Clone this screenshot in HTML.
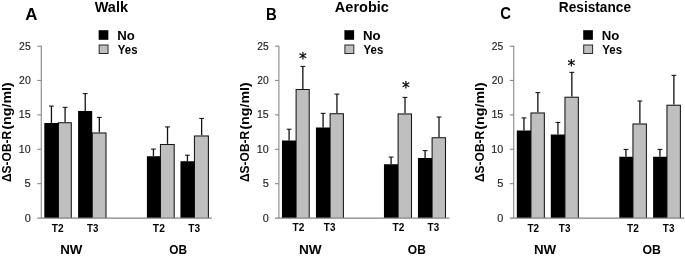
<!DOCTYPE html>
<html><head><meta charset="utf-8"><title>Figure</title>
<style>
html,body{margin:0;padding:0;background:#fff;}
svg{display:block;}
text{font-family:"Liberation Sans",sans-serif;fill:#000;}
.b{font-weight:bold;}
.n{fill:#1e1e1e;stroke:#1e1e1e;stroke-width:0.15;}
.s{font-family:"DejaVu Sans",sans-serif;stroke:#000;stroke-width:0.25;}
</style></head><body>
<svg width="685" height="256" viewBox="0 0 685 256">
<rect width="685" height="256" fill="#fff"/>
<g>
<path d="M51.44 123V106" stroke="#111" stroke-width="1.3" fill="none"/><path d="M49.04 106.1h4.8" stroke="#111" stroke-width="1.05" fill="none"/>
<path d="M65.08 122.25V107.25" stroke="#111" stroke-width="1.3" fill="none"/><path d="M62.68 107.35h4.8" stroke="#111" stroke-width="1.05" fill="none"/>
<rect x="58.45" y="122.25" width="12.85" height="95.85" fill="#bfbfbf"/>
<path d="M58.45 218.1V122.75H71.3V218.1" stroke="#161616" stroke-width="1.05" fill="none"/>
<rect x="44.3" y="123" width="14.1" height="95.1" fill="#000"/>
<path d="M85.24 111V93.5" stroke="#111" stroke-width="1.3" fill="none"/><path d="M82.84 93.6h4.8" stroke="#111" stroke-width="1.05" fill="none"/>
<path d="M99.33 132.5V117.25" stroke="#111" stroke-width="1.3" fill="none"/><path d="M96.92 117.35h4.8" stroke="#111" stroke-width="1.05" fill="none"/>
<rect x="92.25" y="132.5" width="13.75" height="85.6" fill="#bfbfbf"/>
<path d="M92.25 218.1V133H106V218.1" stroke="#161616" stroke-width="1.05" fill="none"/>
<rect x="78.1" y="111" width="14.1" height="107.1" fill="#000"/>
<path d="M153.44 156.25V149" stroke="#111" stroke-width="1.3" fill="none"/><path d="M151.04 149.1h4.8" stroke="#111" stroke-width="1.05" fill="none"/>
<path d="M167.52 143.9V126.8" stroke="#111" stroke-width="1.3" fill="none"/><path d="M165.12 126.9h4.8" stroke="#111" stroke-width="1.05" fill="none"/>
<rect x="160.45" y="143.9" width="13.75" height="74.2" fill="#bfbfbf"/>
<path d="M160.45 218.1V144.4H174.2V218.1" stroke="#161616" stroke-width="1.05" fill="none"/>
<rect x="146.9" y="156.25" width="13.5" height="61.85" fill="#000"/>
<path d="M187.44 161.25V155.1" stroke="#111" stroke-width="1.3" fill="none"/><path d="M185.04 155.2h4.8" stroke="#111" stroke-width="1.05" fill="none"/>
<path d="M201.62 135.5V118.3" stroke="#111" stroke-width="1.3" fill="none"/><path d="M199.22 118.4h4.8" stroke="#111" stroke-width="1.05" fill="none"/>
<rect x="194.45" y="135.5" width="13.95" height="82.6" fill="#bfbfbf"/>
<path d="M194.45 218.1V136H208.4V218.1" stroke="#161616" stroke-width="1.05" fill="none"/>
<rect x="180.45" y="161.25" width="13.95" height="56.85" fill="#000"/>
<path d="M41.25 45.7V218.1M37.35 218.1H211.65" stroke="#828282" stroke-width="1.05" fill="none"/>
<path d="M37.35 183.68h3.9" stroke="#828282" stroke-width="1.05"/>
<path d="M37.35 149.26h3.9" stroke="#828282" stroke-width="1.05"/>
<path d="M37.35 114.84h3.9" stroke="#828282" stroke-width="1.05"/>
<path d="M37.35 80.42h3.9" stroke="#828282" stroke-width="1.05"/>
<path d="M37.35 46.2h3.9" stroke="#828282" stroke-width="1.05"/>
<text class="n" x="24.65" y="221.65" font-size="10.8" textLength="6.07" lengthAdjust="spacingAndGlyphs">0</text>
<text class="n" x="24.62" y="187.23" font-size="10.8" textLength="6.18" lengthAdjust="spacingAndGlyphs">5</text>
<text class="n" x="18.84" y="152.81" font-size="10.8" textLength="11.79" lengthAdjust="spacingAndGlyphs">10</text>
<text class="n" x="18.85" y="118.39" font-size="10.8" textLength="11.78" lengthAdjust="spacingAndGlyphs">15</text>
<text class="n" x="19.09" y="83.97" font-size="10.8" textLength="11.63" lengthAdjust="spacingAndGlyphs">20</text>
<text class="n" x="19.1" y="49.55" font-size="10.8" textLength="11.61" lengthAdjust="spacingAndGlyphs">25</text>
<text class="b" transform="translate(11.45 182.01) rotate(-90)" font-size="12.8" textLength="51.26" lengthAdjust="spacingAndGlyphs">ΔS-OB-R</text>
<text class="b" transform="translate(11.45 129.77) rotate(-90)" font-size="12.8" textLength="47.6" lengthAdjust="spacingAndGlyphs">(ng/ml)</text>
<text class="b" x="25.32" y="19.5" font-size="16.8" textLength="12.21" lengthAdjust="spacingAndGlyphs">A</text>
<text class="b" x="94.74" y="12.3" font-size="14.3" textLength="33.26" lengthAdjust="spacingAndGlyphs">Walk</text>
<rect x="98.65" y="30.2" width="9.7" height="9.6" fill="#000"/>
<rect x="99.15" y="45" width="8.9" height="8.5" fill="#bfbfbf" stroke="#2a2a2a" stroke-width="1"/>
<text class="b" x="117.29" y="39.5" font-size="12.2" textLength="17.6" lengthAdjust="spacingAndGlyphs">No</text>
<text class="b" x="117.82" y="53.6" font-size="12.2" textLength="19.66" lengthAdjust="spacingAndGlyphs">Yes</text>
<text class="b" x="51.73" y="232" font-size="11.7" textLength="11.78" lengthAdjust="spacingAndGlyphs">T2</text>
<text class="b" x="87.12" y="232" font-size="11.7" textLength="11.29" lengthAdjust="spacingAndGlyphs">T3</text>
<text class="b" x="152.87" y="232" font-size="11.7" textLength="12.02" lengthAdjust="spacingAndGlyphs">T2</text>
<text class="b" x="188.28" y="232" font-size="11.7" textLength="11.76" lengthAdjust="spacingAndGlyphs">T3</text>
<text class="b" x="60.25" y="254.1" font-size="12.3" textLength="22.16" lengthAdjust="spacingAndGlyphs">NW</text>
<text class="b" x="169.36" y="254.1" font-size="12.3" textLength="17.75" lengthAdjust="spacingAndGlyphs">OB</text>
</g>
<g>
<path d="M289.09 140.5V129.1" stroke="#111" stroke-width="1.3" fill="none"/><path d="M286.69 129.2h4.8" stroke="#111" stroke-width="1.05" fill="none"/>
<path d="M302.85 89V66.3" stroke="#111" stroke-width="1.3" fill="none"/><path d="M300.45 66.4h4.8" stroke="#111" stroke-width="1.05" fill="none"/>
<rect x="296.1" y="89" width="13.1" height="129.1" fill="#bfbfbf"/>
<path d="M296.1 218.1V89.5H309.2V218.1" stroke="#161616" stroke-width="1.05" fill="none"/>
<rect x="281.95" y="140.5" width="14.1" height="77.6" fill="#000"/>
<path d="M323.09 127.5V113.25" stroke="#111" stroke-width="1.3" fill="none"/><path d="M320.69 113.35h4.8" stroke="#111" stroke-width="1.05" fill="none"/>
<path d="M336.95 113.2V94" stroke="#111" stroke-width="1.3" fill="none"/><path d="M334.55 94.1h4.8" stroke="#111" stroke-width="1.05" fill="none"/>
<rect x="330.1" y="113.2" width="13.3" height="104.9" fill="#bfbfbf"/>
<path d="M330.1 218.1V113.7H343.4V218.1" stroke="#161616" stroke-width="1.05" fill="none"/>
<rect x="315.95" y="127.5" width="14.1" height="90.6" fill="#000"/>
<path d="M391.09 164.25V157" stroke="#111" stroke-width="1.3" fill="none"/><path d="M388.69 157.1h4.8" stroke="#111" stroke-width="1.05" fill="none"/>
<path d="M405 113.5V97.3" stroke="#111" stroke-width="1.3" fill="none"/><path d="M402.6 97.4h4.8" stroke="#111" stroke-width="1.05" fill="none"/>
<rect x="398.1" y="113.5" width="13.4" height="104.6" fill="#bfbfbf"/>
<path d="M398.1 218.1V114H411.5V218.1" stroke="#161616" stroke-width="1.05" fill="none"/>
<rect x="383.95" y="164.25" width="14.1" height="53.85" fill="#000"/>
<path d="M425.09 158V150.5" stroke="#111" stroke-width="1.3" fill="none"/><path d="M422.69 150.6h4.8" stroke="#111" stroke-width="1.05" fill="none"/>
<path d="M439 137.25V116.9" stroke="#111" stroke-width="1.3" fill="none"/><path d="M436.6 117h4.8" stroke="#111" stroke-width="1.05" fill="none"/>
<rect x="432.1" y="137.25" width="13.4" height="80.85" fill="#bfbfbf"/>
<path d="M432.1 218.1V137.75H445.5V218.1" stroke="#161616" stroke-width="1.05" fill="none"/>
<rect x="417.95" y="158" width="14.1" height="60.1" fill="#000"/>
<path d="M278.9 45.7V218.1M275 218.1H449.3" stroke="#828282" stroke-width="1.05" fill="none"/>
<path d="M275 183.68h3.9" stroke="#828282" stroke-width="1.05"/>
<path d="M275 149.26h3.9" stroke="#828282" stroke-width="1.05"/>
<path d="M275 114.84h3.9" stroke="#828282" stroke-width="1.05"/>
<path d="M275 80.42h3.9" stroke="#828282" stroke-width="1.05"/>
<path d="M275 46.2h3.9" stroke="#828282" stroke-width="1.05"/>
<text class="n" x="262.79" y="221.65" font-size="10.8" textLength="6.02" lengthAdjust="spacingAndGlyphs">0</text>
<text class="n" x="262.66" y="187.23" font-size="10.8" textLength="6.16" lengthAdjust="spacingAndGlyphs">5</text>
<text class="n" x="256.85" y="152.81" font-size="10.8" textLength="11.92" lengthAdjust="spacingAndGlyphs">10</text>
<text class="n" x="256.97" y="118.39" font-size="10.8" textLength="11.78" lengthAdjust="spacingAndGlyphs">15</text>
<text class="n" x="257.26" y="83.97" font-size="10.8" textLength="11.49" lengthAdjust="spacingAndGlyphs">20</text>
<text class="n" x="257.25" y="49.55" font-size="10.8" textLength="11.49" lengthAdjust="spacingAndGlyphs">25</text>
<text class="b" transform="translate(249.4 182.01) rotate(-90)" font-size="12.8" textLength="51.26" lengthAdjust="spacingAndGlyphs">ΔS-OB-R</text>
<text class="b" transform="translate(249.4 129.77) rotate(-90)" font-size="12.8" textLength="47.6" lengthAdjust="spacingAndGlyphs">(ng/ml)</text>
<text class="b" x="266" y="19.9" font-size="16.8" textLength="10.77" lengthAdjust="spacingAndGlyphs">B</text>
<text class="b" x="334.89" y="12.3" font-size="14.3" textLength="54.01" lengthAdjust="spacingAndGlyphs">Aerobic</text>
<rect x="344.4" y="30.2" width="9.7" height="9.6" fill="#000"/>
<rect x="344.9" y="45" width="8.9" height="8.5" fill="#bfbfbf" stroke="#2a2a2a" stroke-width="1"/>
<text class="b" x="363.03" y="39.5" font-size="12.2" textLength="17.6" lengthAdjust="spacingAndGlyphs">No</text>
<text class="b" x="363.57" y="53.6" font-size="12.2" textLength="19.66" lengthAdjust="spacingAndGlyphs">Yes</text>
<text class="b" x="292.53" y="231.1" font-size="11.7" textLength="11.77" lengthAdjust="spacingAndGlyphs">T2</text>
<text class="b" x="323.87" y="231.1" font-size="11.7" textLength="11.52" lengthAdjust="spacingAndGlyphs">T3</text>
<text class="b" x="392.53" y="231.1" font-size="11.7" textLength="11.77" lengthAdjust="spacingAndGlyphs">T2</text>
<text class="b" x="427.62" y="231.1" font-size="11.7" textLength="11.51" lengthAdjust="spacingAndGlyphs">T3</text>
<text class="b" x="298.94" y="253.5" font-size="12.3" textLength="22.69" lengthAdjust="spacingAndGlyphs">NW</text>
<text class="b" x="407.84" y="253.5" font-size="12.3" textLength="17.97" lengthAdjust="spacingAndGlyphs">OB</text>
<text class="s" x="302.75" y="64" font-size="15.5" text-anchor="middle">*</text>
<text class="s" x="405.75" y="92.5" font-size="15.5" text-anchor="middle">*</text>
</g>
<g>
<path d="M523.94 130.5V117.8" stroke="#111" stroke-width="1.3" fill="none"/><path d="M521.54 117.9h4.8" stroke="#111" stroke-width="1.05" fill="none"/>
<path d="M537.85 112.5V92.5" stroke="#111" stroke-width="1.3" fill="none"/><path d="M535.45 92.6h4.8" stroke="#111" stroke-width="1.05" fill="none"/>
<rect x="530.95" y="112.5" width="13.4" height="105.6" fill="#bfbfbf"/>
<path d="M530.95 218.1V113H544.35V218.1" stroke="#161616" stroke-width="1.05" fill="none"/>
<rect x="516.8" y="130.5" width="14.1" height="87.6" fill="#000"/>
<path d="M557.94 134.5V122.3" stroke="#111" stroke-width="1.3" fill="none"/><path d="M555.54 122.4h4.8" stroke="#111" stroke-width="1.05" fill="none"/>
<path d="M571.85 96.75V72.25" stroke="#111" stroke-width="1.3" fill="none"/><path d="M569.45 72.35h4.8" stroke="#111" stroke-width="1.05" fill="none"/>
<rect x="564.95" y="96.75" width="13.4" height="121.35" fill="#bfbfbf"/>
<path d="M564.95 218.1V97.25H578.35V218.1" stroke="#161616" stroke-width="1.05" fill="none"/>
<rect x="550.8" y="134.5" width="14.1" height="83.6" fill="#000"/>
<path d="M625.94 156.75V149.3" stroke="#111" stroke-width="1.3" fill="none"/><path d="M623.54 149.4h4.8" stroke="#111" stroke-width="1.05" fill="none"/>
<path d="M639.88 123.5V100.9" stroke="#111" stroke-width="1.3" fill="none"/><path d="M637.48 101h4.8" stroke="#111" stroke-width="1.05" fill="none"/>
<rect x="632.95" y="123.5" width="13.45" height="94.6" fill="#bfbfbf"/>
<path d="M632.95 218.1V124H646.4V218.1" stroke="#161616" stroke-width="1.05" fill="none"/>
<rect x="619.3" y="156.75" width="13.6" height="61.35" fill="#000"/>
<path d="M659.94 156.75V149.3" stroke="#111" stroke-width="1.3" fill="none"/><path d="M657.54 149.4h4.8" stroke="#111" stroke-width="1.05" fill="none"/>
<path d="M673.88 104.75V75.25" stroke="#111" stroke-width="1.3" fill="none"/><path d="M671.48 75.35h4.8" stroke="#111" stroke-width="1.05" fill="none"/>
<rect x="666.95" y="104.75" width="13.45" height="113.35" fill="#bfbfbf"/>
<path d="M666.95 218.1V105.25H680.4V218.1" stroke="#161616" stroke-width="1.05" fill="none"/>
<rect x="653.1" y="156.75" width="13.8" height="61.35" fill="#000"/>
<path d="M513.75 45.7V218.1M509.85 218.1H684.15" stroke="#828282" stroke-width="1.05" fill="none"/>
<path d="M509.85 183.68h3.9" stroke="#828282" stroke-width="1.05"/>
<path d="M509.85 149.26h3.9" stroke="#828282" stroke-width="1.05"/>
<path d="M509.85 114.84h3.9" stroke="#828282" stroke-width="1.05"/>
<path d="M509.85 80.42h3.9" stroke="#828282" stroke-width="1.05"/>
<path d="M509.85 46.2h3.9" stroke="#828282" stroke-width="1.05"/>
<text class="n" x="497.29" y="221.65" font-size="10.8" textLength="6.02" lengthAdjust="spacingAndGlyphs">0</text>
<text class="n" x="497.16" y="187.23" font-size="10.8" textLength="6.16" lengthAdjust="spacingAndGlyphs">5</text>
<text class="n" x="491.35" y="152.81" font-size="10.8" textLength="11.92" lengthAdjust="spacingAndGlyphs">10</text>
<text class="n" x="491.4" y="118.39" font-size="10.8" textLength="11.92" lengthAdjust="spacingAndGlyphs">15</text>
<text class="n" x="491.76" y="83.97" font-size="10.8" textLength="11.49" lengthAdjust="spacingAndGlyphs">20</text>
<text class="n" x="491.75" y="49.55" font-size="10.8" textLength="11.49" lengthAdjust="spacingAndGlyphs">25</text>
<text class="b" transform="translate(483.85 182.01) rotate(-90)" font-size="12.8" textLength="51.26" lengthAdjust="spacingAndGlyphs">ΔS-OB-R</text>
<text class="b" transform="translate(483.85 129.77) rotate(-90)" font-size="12.8" textLength="47.6" lengthAdjust="spacingAndGlyphs">(ng/ml)</text>
<text class="b" x="500.15" y="19.45" font-size="16.8" textLength="10.73" lengthAdjust="spacingAndGlyphs">C</text>
<text class="b" x="558.85" y="12.3" font-size="14.3" textLength="72.16" lengthAdjust="spacingAndGlyphs">Resistance</text>
<rect x="583.2" y="30.2" width="9.7" height="9.6" fill="#000"/>
<rect x="583.7" y="45" width="8.9" height="8.5" fill="#bfbfbf" stroke="#2a2a2a" stroke-width="1"/>
<text class="b" x="601.77" y="39.5" font-size="12.2" textLength="17.61" lengthAdjust="spacingAndGlyphs">No</text>
<text class="b" x="602.33" y="53.6" font-size="12.2" textLength="19.79" lengthAdjust="spacingAndGlyphs">Yes</text>
<text class="b" x="527.46" y="232" font-size="11.7" textLength="11.52" lengthAdjust="spacingAndGlyphs">T2</text>
<text class="b" x="558.87" y="232" font-size="11.7" textLength="11.52" lengthAdjust="spacingAndGlyphs">T3</text>
<text class="b" x="627.12" y="232" font-size="11.7" textLength="11.77" lengthAdjust="spacingAndGlyphs">T2</text>
<text class="b" x="662.87" y="232" font-size="11.7" textLength="11.52" lengthAdjust="spacingAndGlyphs">T3</text>
<text class="b" x="533.98" y="254.1" font-size="12.3" textLength="22.29" lengthAdjust="spacingAndGlyphs">NW</text>
<text class="b" x="642.38" y="254.1" font-size="12.3" textLength="18.46" lengthAdjust="spacingAndGlyphs">OB</text>
<text class="s" x="571.4" y="71.3" font-size="15.5" text-anchor="middle">*</text>
</g>
</svg>
</body></html>
